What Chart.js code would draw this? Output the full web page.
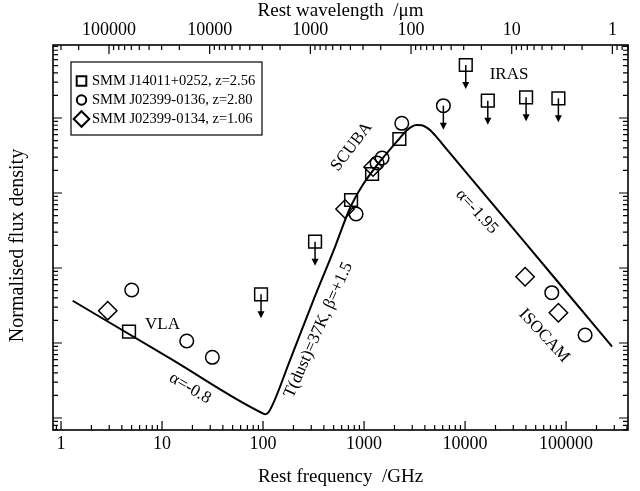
<!DOCTYPE html>
<html>
<head>
<meta charset="utf-8">
<title>SMM galaxies - rest-frame SED</title>
<script src="https://cdn.jsdelivr.net/npm/chart.js@4.4.1/dist/chart.umd.min.js"></script>
<style>
  html, body { margin: 0; padding: 0; background: #fff; }
  canvas { display: block; }
</style>
</head>
<body>
<canvas id="sed" width="640" height="491"></canvas>
<script>
// Rest frequency in GHz, flux density normalised (arbitrary units).

// model: synchrotron + 37 K dust, power-law tail on the Wien side
const modelFreq = [1.306, 12.0, 97.8, 105.9, 114.7, 185.1, 312.6, 493.3, 726.6, 955.5, 1256, 1689,
                   2221, 2605, 2967, 3325, 3726, 4177, 4680, 5245, 5880, 22210, 87210, 285400];
const modelFlux = [36.6, 6.233, 1.166, 1.12, 1.22, 5.93, 36.3, 163.5, 631, 1240, 2089, 3415,
                   5248, 6709, 7702, 8066, 7991, 7425, 6567, 5530, 4600, 542.9, 60.26, 8.93];

// SMM J14011+0252
const j14011Freq = [4.713, 743.5, 1200, 2236];
const j14011Flux = [14.15, 806.6, 1792, 5248];
const j14011LimFreq = [95.5, 327.2, 10160, 16780, 40180, 83890];
const j14011LimFlux = [44.6, 224.2, 50890, 17010, 18880, 18310];

// SMM J02399-0136
const j0136Freq = [5.012, 17.56, 31.48, 833.3, 1345, 1508, 2362, 72180, 154200];
const j0136Flux = [50.89, 10.63, 6.447, 524.8, 2512, 2929, 8499, 46.86, 12.79];
const j0136LimFreq = [6097];
const j0136LimFlux = [14590];

// SMM J02399-0134
const j0134Freq = [2.9, 648.5, 1228, 39280, 83890];
const j0134Flux = [26.96, 611.9, 2222, 76.56, 25.35];

// labelled decades
const freqTicks = [1, 10, 100, 1000, 10000, 100000];
const waveTicks = [100000, 10000, 1000, 100, 10, 1];
const fluxTicks = [1, 10, 100, 1000, 10000];

const C_UM_GHZ = 299792.458;   // lambda[um] * nu[GHz]
const freqMin = 0.833, freqMax = 4.1e5;
const fluxMin = 0.692, fluxMax = 94050;

const FONT = "'Liberation Serif', 'Times New Roman', serif";
Chart.defaults.font.family = FONT;
Chart.defaults.color = '#000';

const pts = (xs, ys) => xs.map((x, i) => ({x: x, y: ys[i]}));

// 1..9 x each decade, kept inside [lo, hi]
function logTicks(decades, lo, hi) {
  const out = [];
  [decades[0] / 10].concat(decades).forEach(d => {
    for (let m = 1; m < 10; m++) {
      const v = m === 1 ? d : m * d;
      if (v >= lo && v <= hi) out.push(v);
    }
  });
  return out.sort((a, b) => a - b);
}
const isMajor = (list, v) => list.indexOf(v) >= 0;

const notes = [
  {text: 'VLA', nu: 10.1, s: 17.9, rot: 0},
  {text: 'IRAS', nu: 27260, s: 37440, rot: 0},
  {text: 'SCUBA', nu: 755.3, s: 4143, rot: -52.6},
  {text: '\u03b1=-1.95', nu: 13060, s: 563.2, rot: 47.5},
  {text: 'ISOCAM', nu: 60560, s: 12.51, rot: 47},
  {text: '\u03b1=-0.8', nu: 18.93, s: 2.489, rot: 30.6},
  {text: 'T(dust)=37K, \u03b2=+1.5', nu: 354.4, s: 14.91, rot: -66}
];

function marker(ctx, style, x, y, r) {
  ctx.beginPath();
  if (style === 'rect') {
    ctx.rect(x - r, y - r, 2 * r, 2 * r);
  } else if (style === 'circle') {
    ctx.arc(x, y, r, 0, Math.PI * 2);
  } else {
    ctx.moveTo(x - r, y); ctx.lineTo(x, y - r); ctx.lineTo(x + r, y); ctx.lineTo(x, y + r);
    ctx.closePath();
  }
  ctx.stroke();
}

// inward ticks on all four sides, the box, and the flux axis title
const frameTicks = {
  id: 'frameTicks',
  afterDraw(chart) {
    const {ctx, chartArea: a, scales} = chart;
    ctx.save();
    ctx.strokeStyle = '#000';
    ctx.lineWidth = 1.2;
    ctx.beginPath();
    scales.x.ticks.forEach(t => {
      const px = scales.x.getPixelForValue(t.value);
      const len = isMajor(freqTicks, t.value) ? 9 : 5;
      ctx.moveTo(px, a.bottom); ctx.lineTo(px, a.bottom - len);
    });
    scales.top.ticks.forEach(t => {
      const px = scales.top.getPixelForValue(t.value);
      const len = isMajor(waveTicks, t.value) ? 9 : 5;
      ctx.moveTo(px, a.top); ctx.lineTo(px, a.top + len);
    });
    scales.y.ticks.forEach(t => {
      const py = scales.y.getPixelForValue(t.value);
      const len = isMajor(fluxTicks, t.value) ? 9 : 5;
      ctx.moveTo(a.left, py); ctx.lineTo(a.left + len, py);
      ctx.moveTo(a.right, py); ctx.lineTo(a.right - len, py);
    });
    ctx.stroke();
    ctx.lineWidth = 1.6;
    ctx.strokeRect(a.left, a.top, a.right - a.left, a.bottom - a.top);

    // title sits at the middle of the whole figure, not of the axis
    ctx.translate(18, chart.height / 2);
    ctx.rotate(-Math.PI / 2);
    ctx.font = '20px ' + FONT;
    ctx.fillStyle = '#000';
    ctx.textAlign = 'center';
    ctx.textBaseline = 'middle';
    ctx.fillText('Normalised flux density', 0, 0);
    ctx.restore();
  }
};

// downward arrows on upper limits
const limitArrows = {
  id: 'limitArrows',
  afterDatasetsDraw(chart) {
    const ctx = chart.ctx;
    ctx.save();
    ctx.strokeStyle = '#000';
    ctx.fillStyle = '#000';
    ctx.lineWidth = 1.5;
    chart.data.datasets.forEach((ds, i) => {
      if (!ds.upperLimit) return;
      chart.getDatasetMeta(i).data.forEach(p => {
        ctx.beginPath();
        ctx.moveTo(p.x, p.y);
        ctx.lineTo(p.x, p.y + 18);
        ctx.stroke();
        ctx.beginPath();
        ctx.moveTo(p.x - 3.5, p.y + 17);
        ctx.lineTo(p.x + 3.5, p.y + 17);
        ctx.lineTo(p.x, p.y + 24);
        ctx.closePath();
        ctx.fill();
      });
    });
    ctx.restore();
  }
};

// instrument labels and slopes
const noteLabels = {
  id: 'noteLabels',
  afterDraw(chart) {
    const {ctx, scales} = chart;
    ctx.save();
    ctx.fillStyle = '#000';
    ctx.font = '17px ' + FONT;
    ctx.textAlign = 'center';
    ctx.textBaseline = 'middle';
    notes.forEach(n => {
      ctx.save();
      ctx.translate(scales.x.getPixelForValue(n.nu), scales.y.getPixelForValue(n.s));
      ctx.rotate(n.rot * Math.PI / 180);
      ctx.fillText(n.text, 0, 0);
      ctx.restore();
    });
    ctx.restore();
  }
};

// boxed key in the upper left corner
const sourceKey = {
  id: 'sourceKey',
  afterDraw(chart) {
    const {ctx, chartArea: a} = chart;
    const x0 = a.left + 18, y0 = a.top + 17;
    const entries = chart.data.datasets.filter(d => d.inLegend);
    ctx.save();
    ctx.strokeStyle = '#000';
    ctx.lineWidth = 1.2;
    ctx.strokeRect(x0, y0, 191, 73);
    ctx.font = '14.5px ' + FONT;
    ctx.fillStyle = '#000';
    ctx.textBaseline = 'middle';
    entries.forEach((d, i) => {
      const y = y0 + 19 + i * 19;
      ctx.lineWidth = 2;
      const r = d.pointStyle === 'rect' ? 4.8 : d.pointStyle === 'circle' ? 4.7 : 7.8;
      marker(ctx, d.pointStyle, x0 + 10.5, y, r);
      ctx.fillText(d.label, x0 + 21, y);
    });
    ctx.restore();
  }
};

const dot = {borderColor: '#000', backgroundColor: 'rgba(0,0,0,0)', borderWidth: 1.5, showLine: false};

new Chart(document.getElementById('sed'), {
  type: 'scatter',
  data: {
    datasets: [
      {
        type: 'line', label: 'model', data: pts(modelFreq, modelFlux),
        borderColor: '#000', borderWidth: 2, pointRadius: 0, fill: false,
        cubicInterpolationMode: 'monotone'
      },
      Object.assign({label: 'SMM J14011+0252, z=2.56', data: pts(j14011Freq, j14011Flux),
        pointStyle: 'rect', pointRadius: 9, inLegend: true}, dot),
      Object.assign({label: 'SMM J02399-0136, z=2.80', data: pts(j0136Freq, j0136Flux),
        pointStyle: 'circle', pointRadius: 6.8, inLegend: true}, dot),
      Object.assign({label: 'SMM J02399-0134, z=1.06', data: pts(j0134Freq, j0134Flux),
        pointStyle: 'rectRot', pointRadius: 9.2, inLegend: true}, dot),
      Object.assign({label: 'SMM J14011+0252 limits', data: pts(j14011LimFreq, j14011LimFlux),
        pointStyle: 'rect', pointRadius: 9, upperLimit: true}, dot),
      Object.assign({label: 'SMM J02399-0136 limits', data: pts(j0136LimFreq, j0136LimFlux),
        pointStyle: 'circle', pointRadius: 6.8, upperLimit: true}, dot)
    ]
  },
  options: {
    responsive: false,
    animation: false,
    devicePixelRatio: 1,
    events: [],
    layout: {padding: {right: 12}},
    plugins: {
      legend: {display: false},
      tooltip: {enabled: false},
      colors: {enabled: false}
    },
    scales: {
      x: {
        type: 'logarithmic', position: 'bottom', min: freqMin, max: freqMax,
        grid: {display: false, drawTicks: false}, border: {display: false},
        afterBuildTicks: s => { s.ticks = logTicks(freqTicks, freqMin, freqMax).map(v => ({value: v})); },
        afterFit: s => { s.height = 61; },
        ticks: {
          autoSkip: false, maxRotation: 0, padding: 3, font: {size: 18},
          callback: v => isMajor(freqTicks, v) ? String(v) : ''
        },
        title: {display: true, text: 'Rest frequency  /GHz', font: {size: 19}, padding: {top: 0, bottom: 3}}
      },
      top: {
        type: 'logarithmic', position: 'top', reverse: true,
        min: C_UM_GHZ / freqMax, max: C_UM_GHZ / freqMin,
        grid: {display: false, drawTicks: false}, border: {display: false},
        afterBuildTicks: s => {
          s.ticks = logTicks(waveTicks.slice().reverse(), s.min, s.max).reverse().map(v => ({value: v}));
        },
        afterFit: s => { s.height = 45; },
        ticks: {
          autoSkip: false, maxRotation: 0, padding: 4, font: {size: 18},
          callback: v => isMajor(waveTicks, v) ? String(v) : ''
        },
        title: {display: true, text: 'Rest wavelength  /\u03bcm', font: {size: 19}, padding: {top: 0, bottom: 0}}
      },
      y: {
        type: 'logarithmic', position: 'left', min: fluxMin, max: fluxMax,
        grid: {display: false, drawTicks: false}, border: {display: false},
        afterBuildTicks: s => { s.ticks = logTicks(fluxTicks, fluxMin, fluxMax).map(v => ({value: v})); },
        afterFit: s => { s.width = 53; },
        ticks: {display: false},
        title: {display: false}
      }
    }
  },
  plugins: [limitArrows, frameTicks, noteLabels, sourceKey]
});
</script>
</body>
</html>
